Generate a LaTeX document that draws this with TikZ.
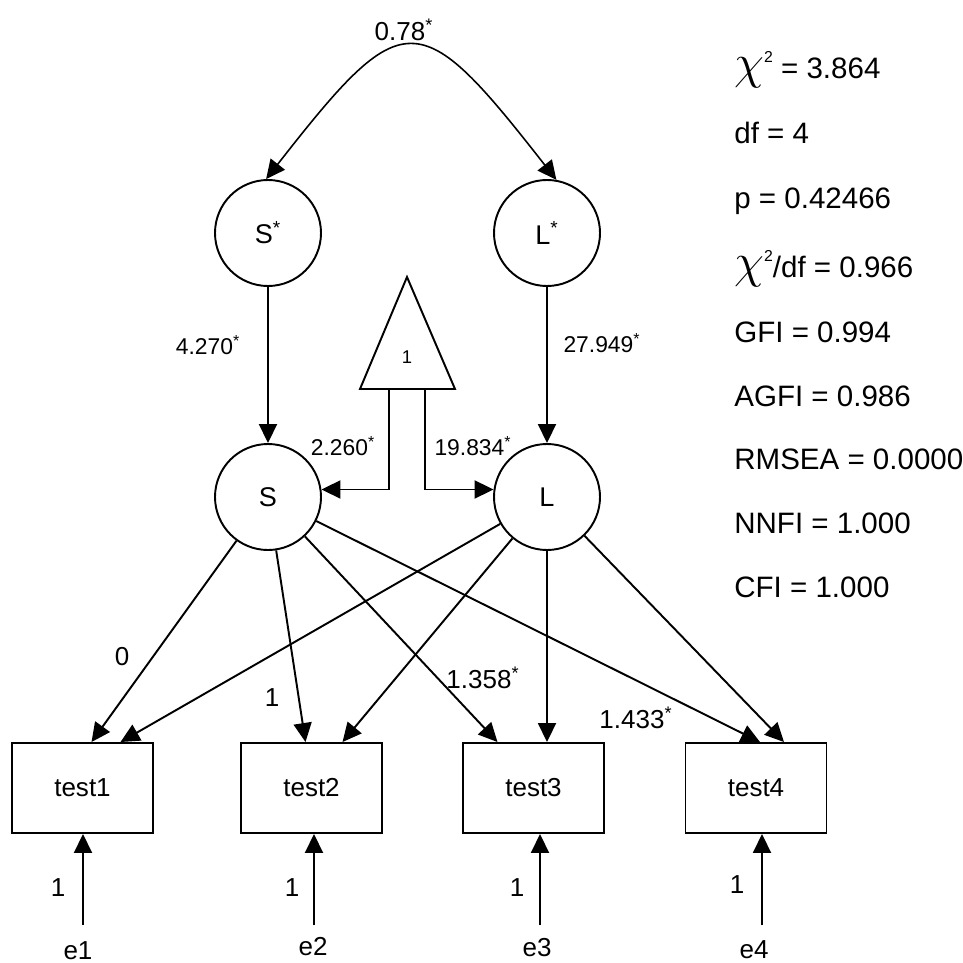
\documentclass[tikz,border=0pt]{standalone}
\usepackage{fontspec}
\setmainfont{Liberation Sans}
\usepackage{graphicx}
\usetikzlibrary{arrows.meta,positioning}

\newcommand{\signif}{\textsuperscript{*}}
\newcommand{\chisq}{\scalebox{1.6}{$\chi$}\raisebox{9pt}{\fontsize{9}{10}\selectfont 2}}

\tikzset{
  latent/.style={circle, draw, line width=1.1pt, minimum size=2.12cm, inner sep=0pt,
    font=\fontsize{15.4}{17}\selectfont},
  observed/.style={rectangle, draw, line width=1.1pt, minimum width=2.82cm,
    minimum height=1.8cm, inner sep=0pt, font=\fontsize{14.8}{17}\selectfont},
  arr/.style={-{Triangle[length=0.38cm,width=0.36cm]}, line width=1.1pt},
  biarr/.style={{Triangle[length=0.38cm,width=0.36cm]}-{Triangle[length=0.38cm,width=0.36cm]}, line width=0.9pt},
  coef/.style={inner sep=0pt, font=\fontsize{14.8}{17}\selectfont},
  smallcoef/.style={inner sep=0pt, font=\fontsize{13}{15}\selectfont},
  fitstat/.style={anchor=base west, inner sep=0pt, font=\fontsize{16.8}{19}\selectfont}
}

\begin{document}
\begin{tikzpicture}
  \useasboundingbox (0,0) rectangle (19.26,-19.26);
  % latent variables
  \node[latent] (Sstar) at (5.36,-4.66) {S\signif};
  \node[latent] (Lstar) at (10.94,-4.66) {L\signif};
  \node[latent] (S) at (5.36,-9.94) {S};
  \node[latent] (L) at (10.94,-9.94) {L};
  % observed variables
  \node[observed] (test1) at (1.65,-15.76) {test1};
  \node[observed] (test2) at (6.23,-15.76) {test2};
  \node[observed] (test3) at (10.67,-15.76) {test3};
  \node[observed] (test4) at (15.12,-15.76) {test4};
  % constant
  \coordinate (apex) at (8.14,-5.54);
  \coordinate (baseL) at (7.2,-7.78);
  \coordinate (baseR) at (9.1,-7.78);
  \draw[line width=1.1pt] (apex)--(baseL)--(baseR)--cycle;
  \node[inner sep=0pt, font=\fontsize{10.5}{12}\selectfont] (one) at (8.14,-7.14) {1};
  \coordinate (tl) at (7.78,-7.78);
  \coordinate (tr) at (8.5,-7.78);
\draw[arr] (tl) |- (S.8);
\draw[arr] (tr) |- (L.172);
\node[smallcoef] (m1) at (6.86,-8.92) {2.260\signif};
\node[smallcoef] (m2) at (9.46,-8.92) {19.834\signif};
  % covariance and paths
\draw[biarr] (Sstar.92) .. controls +(52:4.48) and +(128:4.48) .. (Lstar.80);
\node[coef] (cov) at (8.08,-0.6) {0.78\signif};
\draw[arr] (Sstar)--(S);
\draw[arr] (Lstar)--(L);
\node[smallcoef] (g1) at (4.16,-6.9) {4.270\signif};
\node[smallcoef] (g2) at (12.04,-6.86) {27.949\signif};
  % loadings
\draw[arr] (S)--([xshift=0.18cm]test1.north);
\draw[arr] (L)--([xshift=0.76cm]test1.north);
\draw[arr] (S)--([xshift=-0.12cm]test2.north);
\draw[arr] (L)--([xshift=0.62cm]test2.north);
\draw[arr] (S)--([xshift=-0.72cm]test3.north);
\draw[arr] (L)--([xshift=0.27cm]test3.north);
\draw[arr] (S)--([xshift=0.08cm]test4.north);
\draw[arr] (L)--([xshift=0.56cm]test4.north);
\node[coef] (l1) at (2.44,-13.14) {0};
\node[coef] (l2) at (5.44,-13.96) {1};
\node[coef] (l3) at (9.66,-13.56) {1.358\signif};
\node[coef] (l4) at (12.72,-14.36) {1.433\signif};
  % errors
  \coordinate (e1s) at (1.66,-18.5);
  \coordinate (e2s) at (6.28,-18.5);
  \coordinate (e3s) at (10.8,-18.5);
  \coordinate (e4s) at (15.24,-18.5);
\draw[arr] (e1s)--(e1s |- test1.south);
\draw[arr] (e2s)--(e2s |- test2.south);
\draw[arr] (e3s)--(e3s |- test3.south);
\draw[arr] (e4s)--(e4s |- test4.south);
\node[coef] (e1) at (1.56,-19.02) {e1};
\node[coef] (e2) at (6.26,-18.94) {e2};
\node[coef] (e3) at (10.74,-18.96) {e3};
\node[coef] (e4) at (15.08,-19.0) {e4};
\node[coef] (w1) at (1.16,-17.76) {1};
\node[coef] (w2) at (5.84,-17.76) {1};
\node[coef] (w3) at (10.34,-17.76) {1};
\node[coef] (w4) at (14.74,-17.7) {1};
  % fit indices
\node[fitstat] (chi) at (14.68,-1.57) {\chisq{} = 3.864};
\node[fitstat] (df) at (14.68,-2.87) {df = 4};
\node[fitstat] (pval) at (14.68,-4.17) {p = 0.42466};
\node[fitstat] (ratio) at (14.68,-5.55) {\chisq/df = 0.966};
\node[fitstat] (gfi) at (14.68,-6.85) {GFI = 0.994};
\node[fitstat] (agfi) at (14.68,-8.13) {AGFI = 0.986};
\node[fitstat] (rmsea) at (14.68,-9.39) {RMSEA = 0.0000};
\node[fitstat] (nnfi) at (14.68,-10.67) {NNFI = 1.000};
\node[fitstat] (cfi) at (14.68,-11.95) {CFI = 1.000};
\end{tikzpicture}
\end{document}
